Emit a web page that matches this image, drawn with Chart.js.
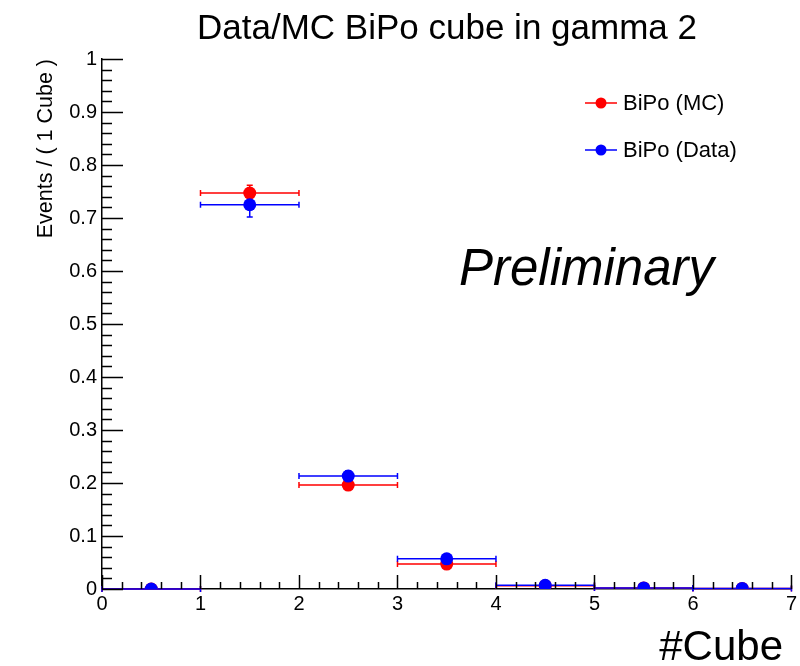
<!DOCTYPE html>
<html>
<head>
<meta charset="utf-8">
<script src="https://cdn.jsdelivr.net/npm/chart.js@4/dist/chart.umd.min.js"></script>
<style>
  html, body { margin: 0; padding: 0; background: #fff; }
  #wrap { width: 800px; height: 666px; }
</style>
</head>
<body>
<div id="wrap"><canvas id="myChart" width="800" height="666"></canvas></div>
<script>
"use strict";

// bin centres (#Cube) and normalised values
const binCenters = [0.5, 1.5, 2.5, 3.5, 4.5, 5.5, 6.5];
const binHalfWidth = 0.5;
const mcValues = [0, 0.747, 0.196, 0.047, 0.006, 0.002, 0.001];
const mcErrors = [0, 0.015, 0.006, 0.004, 0.001, 0.0005, 0.0003];
const dataValues = [0, 0.725, 0.213, 0.057, 0.007, 0.002, 0.001];
const dataErrors = [0, 0.023, 0.010, 0.005, 0.002, 0.001, 0.001];
const xTickLabels = ['0', '1', '2', '3', '4', '5', '6', '7'];
const yTickLabels = ['0', '0.1', '0.2', '0.3', '0.4', '0.5', '0.6', '0.7', '0.8', '0.9', '1'];

const FONT = '"Liberation Sans", Arial, Helvetica, sans-serif';
const RED = 'rgb(255, 0, 0)';
const BLUE = 'rgb(0, 0, 255)';

function toPoints(vals, errs) {
    return binCenters.map(function (x, i) {
        return { x: x, y: vals[i], err: errs[i] };
    });
}

// horizontal bin-width bars and vertical error bars, drawn before the markers
const errorBars = {
    id: 'errorBars',
    beforeDatasetsDraw: function (chart) {
        const ctx = chart.ctx;
        const xs = chart.scales.x, ys = chart.scales.y;
        ctx.save();
        chart.data.datasets.forEach(function (ds) {
            ctx.strokeStyle = ds.borderColor;
            ctx.lineWidth = 1.5;
            ds.data.forEach(function (p) {
                const py = ys.getPixelForValue(p.y);
                const x0 = xs.getPixelForValue(p.x - binHalfWidth);
                const x1 = xs.getPixelForValue(p.x + binHalfWidth);
                ctx.beginPath();
                ctx.moveTo(x0, py); ctx.lineTo(x1, py);
                ctx.moveTo(x0, py - 3); ctx.lineTo(x0, py + 3);
                ctx.moveTo(x1, py - 3); ctx.lineTo(x1, py + 3);
                if (p.err > 0.002) {
                    const ya = ys.getPixelForValue(p.y + p.err);
                    const yb = ys.getPixelForValue(p.y - p.err);
                    const px = xs.getPixelForValue(p.x);
                    ctx.moveTo(px, ya); ctx.lineTo(px, yb);
                    ctx.moveTo(px - 3, ya); ctx.lineTo(px + 3, ya);
                    ctx.moveTo(px - 3, yb); ctx.lineTo(px + 3, yb);
                }
                ctx.stroke();
            });
        });
        ctx.restore();
    }
};

// ROOT-style inward ticks, texts and legend
const decorations = {
    id: 'decorations',
    afterDraw: function (chart) {
        const ctx = chart.ctx;
        const xs = chart.scales.x, ys = chart.scales.y;
        const left = chart.chartArea.left, bottom = chart.chartArea.bottom;
        ctx.save();
        ctx.strokeStyle = '#000';
        ctx.lineWidth = 1.5;
        ctx.beginPath();
        // x ticks: majors every 1, minors every 0.2
        for (let i = 0; i <= 35; i++) {
            const v = i * 0.2;
            const px = Math.round(xs.getPixelForValue(v)) + 0.5;
            const len = (i % 5 === 0) ? 14 : 7;
            ctx.moveTo(px, bottom); ctx.lineTo(px, bottom - len);
        }
        // y ticks: majors every 0.1, minors every 0.02
        for (let i = 0; i <= 50; i++) {
            const v = i * 0.02;
            const py = Math.round(ys.getPixelForValue(v)) + 0.5;
            const len = (i % 5 === 0) ? 21 : 10;
            ctx.moveTo(left, py); ctx.lineTo(left + len, py);
        }
        ctx.stroke();

        ctx.fillStyle = '#000';
        // title
        ctx.font = '35px ' + FONT;
        ctx.textAlign = 'center';
        ctx.textBaseline = 'alphabetic';
        ctx.fillText('Data/MC BiPo cube in gamma 2', 447, 39);

        // x axis title
        ctx.font = '42px ' + FONT;
        ctx.textAlign = 'right';
        ctx.fillText('#Cube', 783, 660);

        // y axis title
        ctx.save();
        ctx.translate(52, 59);
        ctx.rotate(-Math.PI / 2);
        ctx.font = '21.5px ' + FONT;
        ctx.textAlign = 'right';
        ctx.fillText('Events / ( 1 Cube )', 0, 0);
        ctx.restore();

        // Preliminary
        ctx.font = 'italic 51px ' + FONT;
        ctx.textAlign = 'left';
        ctx.fillText('Preliminary', 459, 285);

        // legend
        const rows = [{ ds: chart.data.datasets[0], y: 103 }, { ds: chart.data.datasets[1], y: 150 }];
        rows.forEach(function (r) {
            ctx.strokeStyle = r.ds.borderColor;
            ctx.lineWidth = 1.5;
            ctx.beginPath();
            ctx.moveTo(585, r.y); ctx.lineTo(617, r.y);
            ctx.stroke();
            ctx.fillStyle = r.ds.backgroundColor;
            ctx.beginPath();
            ctx.arc(601, r.y, 5.5, 0, Math.PI * 2);
            ctx.fill();
            ctx.fillStyle = '#000';
            ctx.font = '22px ' + FONT;
            ctx.textAlign = 'left';
            ctx.textBaseline = 'middle';
            ctx.fillText(r.ds.label, 623, r.y + 1);
        });
        ctx.restore();
    }
};

const ctx = document.getElementById('myChart').getContext('2d');
const chart = new Chart(ctx, {
    type: 'scatter',
    data: {
        datasets: [{
            label: 'BiPo (MC)',
            data: toPoints(mcValues, mcErrors),
            backgroundColor: RED,
            borderColor: RED,
            pointRadius: 6.5,
            pointBorderWidth: 0,
            order: 1
        },
        {
            label: 'BiPo (Data)',
            data: toPoints(dataValues, dataErrors),
            backgroundColor: BLUE,
            borderColor: BLUE,
            pointRadius: 6.5,
            pointBorderWidth: 0,
            order: 0
        }]
    },
    options: {
        responsive: false,
        animation: false,
        layout: { padding: { top: 59, right: 7, left: 0, bottom: 0 } },
        plugins: {
            legend: { display: false },
            title: { display: false },
            tooltip: { enabled: false }
        },
        scales: {
            x: {
                type: 'linear',
                min: 0,
                max: 7,
                afterFit: function (scale) { scale.height = 77; },
                grid: { display: false, drawTicks: false },
                border: { display: true, color: '#000', width: 1.5 },
                ticks: {
                    stepSize: 1,
                    padding: 3,
                    color: '#000',
                    font: { family: FONT, size: 20 },
                    callback: function (v) { return xTickLabels[Math.round(v)]; }
                }
            },
            y: {
                type: 'linear',
                min: 0,
                max: 1,
                afterFit: function (scale) { scale.width = 102; },
                grid: { display: false, drawTicks: false },
                border: { display: true, color: '#000', width: 1.5 },
                ticks: {
                    stepSize: 0.1,
                    padding: 5,
                    color: '#000',
                    font: { family: FONT, size: 20 },
                    callback: function (v) { return yTickLabels[Math.round(v * 10)]; }
                }
            }
        }
    },
    plugins: [errorBars, decorations]
});
</script>
</body>
</html>
